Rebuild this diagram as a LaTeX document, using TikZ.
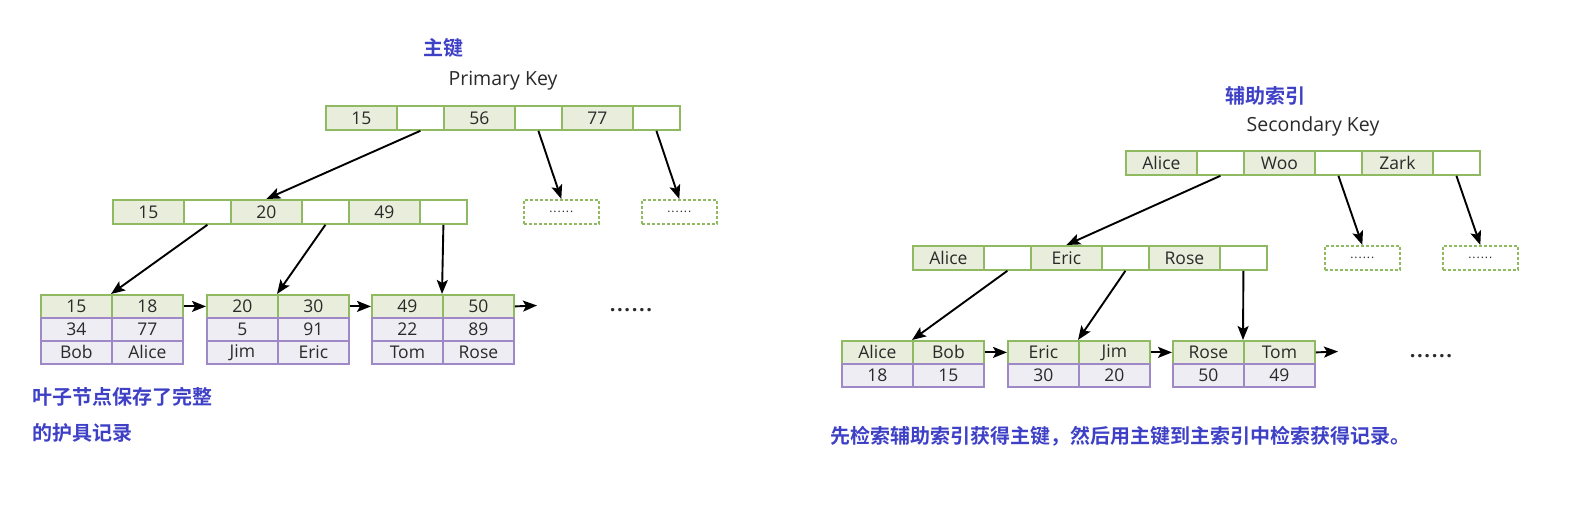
\documentclass[tikz,border=0pt]{standalone}
\usepackage{fontspec}
\setmainfont{Open Sans}
\newfontfamily\cjk{Noto Sans CJK SC}[BoldFont={* Bold}]
\usetikzlibrary{arrows.meta}
\definecolor{gbord}{HTML}{8FBA62}
\definecolor{gfill}{HTML}{E8EEDB}
\definecolor{pbord}{HTML}{9F88C6}
\definecolor{pfill}{HTML}{EFEDF4}
\definecolor{bluet}{HTML}{3E40C6}
\definecolor{txt}{HTML}{2A2A2A}
\tikzset{
  cell/.style={draw, line width=1.8pt, inner sep=0pt, anchor=north west, text=txt, font=\fontsize{17.5}{17.5}\selectfont},
  keycell/.style={cell, draw=gbord, fill=gfill, minimum width=71pt, minimum height=24pt},
  ptrcell/.style={cell, draw=gbord, fill=white, minimum width=47pt, minimum height=24pt},
  leafkey/.style={cell, draw=gbord, fill=gfill, minimum width=71pt, minimum height=23pt},
  leafdata/.style={cell, draw=pbord, fill=pfill, minimum width=71pt, minimum height=23pt},
  dashbox/.style={draw=gbord, line width=1.6pt, dash pattern=on 3pt off 2pt, inner sep=0pt, anchor=north west, minimum width=75pt, minimum height=24pt, text=txt, font=\fontsize{12}{12}\selectfont\addfontfeature{LetterSpace=8}},
  conn/.style={line width=1.9pt, -{Stealth[length=14pt,width=11pt,inset=3pt]}},
  cn/.style={font=\cjk\bfseries\fontsize{20}{20}\selectfont, text=bluet, inner sep=0pt},
  en/.style={font=\fontsize{19.5}{19.5}\selectfont, text=txt, inner sep=0pt},
  bigdots/.style={font=\bfseries\fontsize{20}{20}\selectfont\addfontfeature{LetterSpace=8}, text=txt, inner sep=0pt},
}
\begin{document}
\begin{tikzpicture}[x=1pt,y=-1pt]
\useasboundingbox (0,0) rectangle (1570,505);
% ---------------- Left: primary key tree ----------------
\node[cn] (lcn) at (443,48) {主键};
\node[en] (len) at (503,81) {Primary Key};
% root
\node[keycell] (a1) at (325,105) {15};
\node[ptrcell] (ap1) at (396,105) {};
\node[keycell] (a2) at (443,105) {56};
\node[ptrcell] (ap2) at (514,105) {};
\node[keycell] (a3) at (561,105) {77};
\node[ptrcell] (ap3) at (632,105) {};
% level 2
\node[keycell] (b1) at (112,199) {15};
\node[ptrcell] (bp1) at (183,199) {};
\node[keycell] (b2) at (230,199) {20};
\node[ptrcell] (bp2) at (301,199) {};
\node[keycell] (b3) at (348,199) {49};
\node[ptrcell] (bp3) at (419,199) {};
\node[dashbox] (d1) at (523,199) {......};
\node[dashbox] (d2) at (641,199) {......};
% leaves
\node[leafkey] (l1a) at (40,294) {15};
\node[leafkey] (l1b) at (111,294) {18};
\node[leafdata] (l1c) at (40,317) {34};
\node[leafdata] (l1d) at (111,317) {77};
\node[leafdata] (l1e) at (40,340) {Bob};
\node[leafdata] (l1f) at (111,340) {Alice};
\node[leafkey] (l2a) at (206,294) {20};
\node[leafkey] (l2b) at (277,294) {30};
\node[leafdata] (l2c) at (206,317) {5};
\node[leafdata] (l2d) at (277,317) {91};
\node[leafdata] (l2e) at (206,340) {Jim};
\node[leafdata] (l2f) at (277,340) {Eric};
\node[leafkey] (l3a) at (371,294) {49};
\node[leafkey] (l3b) at (442,294) {50};
\node[leafdata] (l3c) at (371,317) {22};
\node[leafdata] (l3d) at (442,317) {89};
\node[leafdata] (l3e) at (371,340) {Tom};
\node[leafdata] (l3f) at (442,340) {Rose};
\coordinate (lend) at (537,305.5);
\node[bigdots] (ldots) at (631,310) {......};
% connectors
\draw[conn] (ap1.south) -- (b2.north);
\draw[conn] (ap2.south) -- (d1.north);
\draw[conn] (ap3.south) -- (d2.north);
\draw[conn] (bp1.south) -- (l1b.north west);
\draw[conn] (bp2.south) -- (l2b.north west);
\draw[conn] (bp3.south) -- (l3b.north west);
\draw[conn] (l1b.east) -- (l2a.west);
\draw[conn] (l2b.east) -- (l3a.west);
\draw[conn] (l3b.east) -- (lend);
% texts
\node[cn, anchor=west] (lt1) at (32,397) {叶子节点保存了完整};
\node[cn, anchor=west] (lt2) at (32,433) {的护具记录};
% ---------------- Right: secondary key tree ----------------
\node[cn] (rcn) at (1265,96) {辅助索引};
\node[en] (ren) at (1313,126) {Secondary Key};
\node[keycell] (c1) at (1125,150) {Alice};
\node[ptrcell] (cp1) at (1196,150) {};
\node[keycell] (c2) at (1243,150) {Woo};
\node[ptrcell] (cp2) at (1314,150) {};
\node[keycell] (c3) at (1361,150) {Zark};
\node[ptrcell] (cp3) at (1432,150) {};
\node[keycell] (e1) at (912,245) {Alice};
\node[ptrcell] (ep1) at (983,245) {};
\node[keycell] (e2) at (1030,245) {Eric};
\node[ptrcell] (ep2) at (1101,245) {};
\node[keycell] (e3) at (1148,245) {Rose};
\node[ptrcell] (ep3) at (1219,245) {};
\node[dashbox] (d3) at (1324,245) {......};
\node[dashbox] (d4) at (1442,245) {......};
\node[leafkey] (m1a) at (841,340) {Alice};
\node[leafkey] (m1b) at (912,340) {Bob};
\node[leafdata] (m1c) at (841,363) {18};
\node[leafdata] (m1d) at (912,363) {15};
\node[leafkey] (m2a) at (1007,340) {Eric};
\node[leafkey] (m2b) at (1078,340) {Jim};
\node[leafdata] (m2c) at (1007,363) {30};
\node[leafdata] (m2d) at (1078,363) {20};
\node[leafkey] (m3a) at (1172,340) {Rose};
\node[leafkey] (m3b) at (1243,340) {Tom};
\node[leafdata] (m3c) at (1172,363) {50};
\node[leafdata] (m3d) at (1243,363) {49};
\coordinate (rend) at (1338,351.5);
\node[bigdots] (rdots) at (1431,356) {......};
\draw[conn] (cp1.south) -- (e2.north);
\draw[conn] (cp2.south) -- (d3.north);
\draw[conn] (cp3.south) -- (d4.north);
\draw[conn] (ep1.south) -- (m1b.north west);
\draw[conn] (ep2.south) -- (m2b.north west);
\draw[conn] (ep3.south) -- (m3b.north west);
\draw[conn] (m1b.east) -- (m2a.west);
\draw[conn] (m2b.east) -- (m3a.west);
\draw[conn] (m3b.east) -- (rend);
\node[cn, anchor=west] (rt) at (830,436) {先检索辅助索引获得主键，然后用主键到主索引中检索获得记录。};
\end{tikzpicture}
\end{document}
